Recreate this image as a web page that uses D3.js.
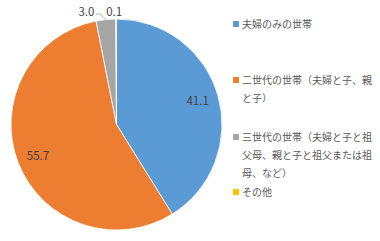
<!DOCTYPE html>
<html>
<head>
    <meta charset="utf-8">
    <title>pie</title>
    <style>
        body { margin: 0; background: #fff; }
        text { font-family: "Noto Sans CJK JP", sans-serif; }
    </style>
</head>
<body>
    <script src="https://d3js.org/d3.v7.min.js"></script>
    <script>
        let categories = ["夫婦のみの世帯", "二世代の世帯（夫婦と子、親と子）", "三世代の世帯（夫婦と子と祖父母、親と子と祖父または祖母、など）", "その他"];
        let legendLines = [["夫婦のみの世帯"], ["二世代の世帯（夫婦と子、親", "と子）"], ["三世代の世帯（夫婦と子と祖", "父母、親と子と祖父または祖", "母、など）"], ["その他"]];
        let values = [41.1, 55.7, 3.0, 0.1];
        let colors = ["#5b9bd5", "#ed7d31", "#a5a5a5", "#ffc000"];

        let width = 380, height = 241;
        let cx = 116.5, cy = 124.5, r = 105.5;

        let svg = d3.select("body").append("svg").attr("width", width).attr("height", height);
        let g = svg.append("g").attr("transform", "translate(" + cx + "," + cy + ")");

        let pie = d3.pie().sort(null).value(function(d) { return d; });
        let arcs = pie(values);
        let arc = d3.arc().innerRadius(0).outerRadius(r);
        let labelArc = d3.arc().innerRadius(r * 0.8).outerRadius(r * 0.8);

        g.selectAll("path")
            .data(arcs)
            .enter()
            .append("path")
            .attr("d", arc)
            .attr("fill", function(d, i) { return colors[i]; })
            .attr("stroke", "#fff")
            .attr("stroke-width", 0.8);

        function edge(d, rr) {
            let a = (d.startAngle + d.endAngle) / 2;
            return [Math.sin(a) * rr, -Math.cos(a) * rr];
        }

        arcs.forEach(function(d, i) {
            let txt = values[i].toFixed(1);
            if (values[i] > 10) {
                let p = labelArc.centroid(d);
                g.append("text").text(txt)
                    .attr("x", p[0]).attr("y", p[1])
                    .attr("text-anchor", "middle").attr("dy", "0.35em")
                    .attr("font-size", 11.5).attr("fill", "#404040");
            } else if (values[i] > 1) {
                let p = edge(d, r);
                let ly = -r - 5;
                g.append("polyline")
                    .attr("points", [p, [p[0] - 6, ly], [p[0] - 10, ly]].map(function(q) { return q.join(","); }).join(" "))
                    .attr("fill", "none").attr("stroke", "#a6a6a6").attr("stroke-width", 0.8);
                g.append("text").text(txt)
                    .attr("x", p[0] - 11.5).attr("y", -r - 7.5)
                    .attr("text-anchor", "end").attr("dy", "0.35em")
                    .attr("font-size", 11.5).attr("fill", "#404040");
            } else {
                let p = edge(d, r);
                g.append("text").text(txt)
                    .attr("x", p[0] - 2).attr("y", -r - 7.5)
                    .attr("text-anchor", "middle").attr("dy", "0.35em")
                    .attr("font-size", 11.5).attr("fill", "#404040");
            }
        });

        let legendY = [24, 80, 137, 192];
        let lineH = 18;
        let legend = svg.selectAll(".lg")
            .data(categories)
            .enter()
            .append("g")
            .attr("class", "lg")
            .attr("transform", function(d, i) { return "translate(233," + legendY[i] + ")"; });

        legend.append("rect")
            .attr("x", 0).attr("y", -3).attr("width", 6).attr("height", 6)
            .attr("fill", function(d, i) { return colors[i]; });

        legend.append("text")
            .attr("font-size", 10).attr("fill", "#595959")
            .each(function(d, i) {
                let t = d3.select(this);
                legendLines[i].forEach(function(line, j) {
                    t.append("tspan").text(line)
                        .attr("x", 9).attr("y", j * lineH).attr("dy", "0.35em");
                });
            });
    </script>
</body>
</html>
